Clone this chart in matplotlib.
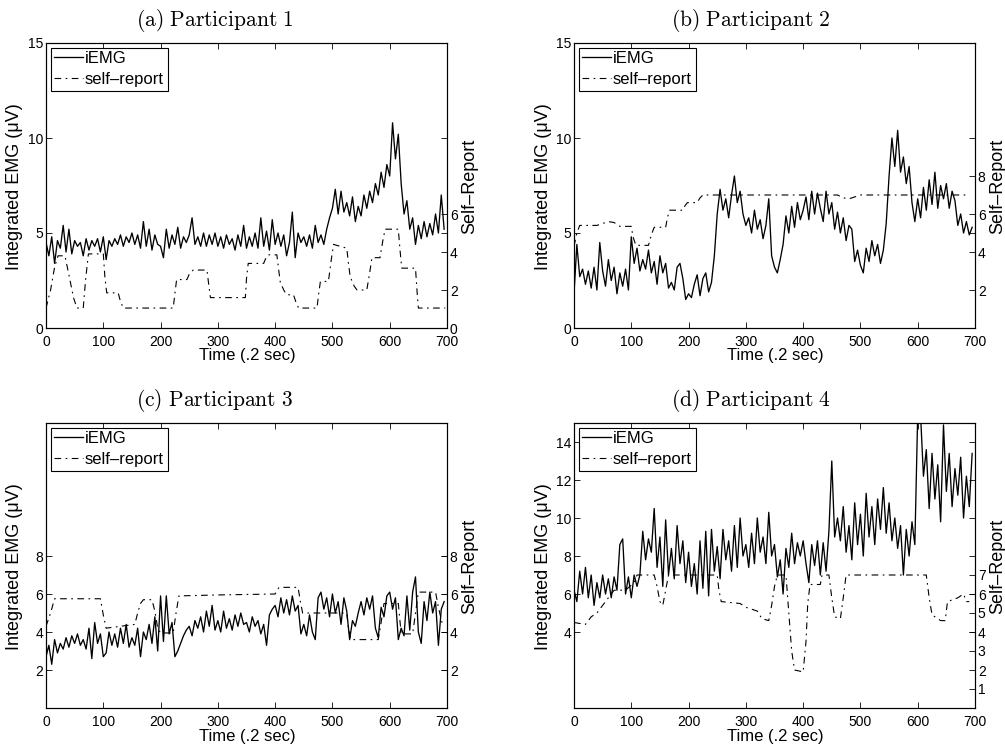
import numpy as np
import matplotlib
matplotlib.use('Agg')
from matplotlib import pyplot as plt

plt.rcParams['font.family'] = ['Liberation Sans', 'DejaVu Sans']
plt.rcParams['mathtext.fontset'] = 'cm'

# iEMG sampled every 5 time steps (0 .. 695)
t = np.arange(0, 700, 5)

emg_a = [4.5, 3.8, 4.8, 3.4, 4.6, 4.2, 5.4, 4.0, 5.2, 3.9,
         4.6, 4.3, 4.5, 3.8, 4.7, 4.1, 4.6, 4.3, 4.7, 4.0,
         4.8, 3.6, 4.6, 4.3, 4.7, 4.4, 4.9, 4.3, 4.8, 4.5,
         5.0, 4.4, 4.9, 4.2, 5.6, 4.3, 5.2, 4.1, 4.9, 4.4,
         4.3, 3.7, 5.2, 4.2, 4.9, 4.4, 5.3, 4.2, 4.8, 4.5,
         4.9, 5.8, 4.4, 4.8, 4.3, 5.0, 4.3, 4.9, 4.4, 5.0,
         4.3, 4.8, 4.2, 4.9, 4.4, 4.7, 4.1, 4.9, 4.3, 5.4,
         4.2, 4.8, 4.3, 5.0, 4.2, 5.8, 4.3, 5.1, 4.1, 5.7,
         4.4, 5.0, 4.3, 4.9, 3.8, 4.5, 6.1, 3.7, 5.0, 4.5,
         4.8, 4.3, 4.9, 4.2, 5.4, 4.5, 4.9, 4.4, 5.2, 5.8,
         6.3, 7.3, 6.0, 7.2, 6.1, 6.6, 5.9, 6.9, 5.6, 6.4,
         5.9, 7.0, 6.3, 7.2, 6.6, 7.6, 7.0, 8.2, 7.4, 8.6,
         8.0, 10.8, 8.9, 10.2, 7.6, 6.0, 6.7, 5.2, 5.8, 4.4,
         5.4, 4.7, 5.6, 4.8, 5.5, 4.9, 6.0, 5.0, 7.0, 5.2]

emg_b = [1.8, 4.4, 2.7, 3.1, 2.3, 3.0, 2.1, 3.2, 2.0, 4.5,
         3.0, 2.2, 3.6, 2.5, 3.2, 1.8, 2.9, 2.2, 3.1, 2.0,
         4.8, 3.4, 4.2, 3.0, 3.6, 3.1, 4.1, 2.9, 3.5, 2.3,
         3.8, 2.9, 3.4, 2.1, 2.4, 2.0, 3.2, 3.4, 2.6, 1.5,
         1.8, 1.6, 2.3, 2.8, 1.7, 2.6, 2.9, 1.9, 2.4, 3.8,
         6.0, 7.3, 6.2, 6.8, 5.8, 7.0, 8.0, 6.6, 7.2, 6.0,
         5.4, 5.8, 5.0, 6.2, 5.2, 5.7, 4.7, 5.4, 6.8, 3.8,
         3.2, 2.9, 3.6, 4.4, 5.9, 5.0, 6.4, 5.3, 6.6, 5.7,
         6.2, 6.9, 5.7, 7.2, 6.0, 7.1, 6.3, 5.6, 7.2, 6.0,
         6.6, 5.2, 6.1, 5.0, 5.8, 4.6, 5.4, 5.2, 3.5, 4.1,
         3.3, 2.9, 4.2, 3.5, 4.6, 3.8, 4.4, 3.4, 4.1, 5.5,
         8.0, 10.0, 8.5, 10.4, 8.2, 9.0, 7.6, 8.5, 6.6, 5.6,
         6.8, 5.8, 7.4, 6.2, 7.8, 6.5, 8.2, 6.3, 7.5, 6.8,
         7.6, 6.3, 7.2, 6.7, 5.4, 6.0, 5.0, 5.6, 4.9, 5.3]

emg_c = [2.7, 3.3, 2.3, 3.6, 2.9, 3.4, 3.1, 3.7, 3.2, 3.8,
         3.4, 3.9, 3.3, 3.6, 3.1, 4.2, 2.6, 4.5, 3.4, 3.9,
         2.7, 2.9, 4.0, 3.3, 3.9, 3.2, 4.2, 3.4, 4.4, 3.2,
         3.7, 3.3, 4.2, 2.7, 4.0, 3.6, 4.4, 3.4, 4.8, 3.0,
         5.9, 3.5, 5.9, 3.9, 4.5, 2.7, 3.0, 3.4, 3.8, 4.1,
         4.3, 3.8, 4.6, 4.2, 4.8, 4.0, 5.1, 4.3, 5.4, 4.1,
         4.6, 4.0, 5.1, 4.2, 4.7, 4.1, 4.9, 4.3, 5.0, 4.4,
         4.5, 4.0, 4.8, 4.3, 4.6, 3.9, 4.4, 3.3, 4.9, 5.2,
         5.4, 4.8, 5.8, 5.0, 5.7, 4.9, 5.9, 5.1, 5.4, 3.9,
         4.4, 3.8, 4.9, 4.0, 3.6, 5.8, 6.1, 5.2, 5.8, 4.8,
         6.0, 5.0, 5.6, 4.4, 5.8, 5.1, 3.6, 4.6, 4.3, 5.0,
         5.6, 4.9, 5.8, 5.2, 5.9, 4.2, 3.7, 5.3, 4.8, 5.9,
         6.1, 5.2, 5.8, 3.6, 4.2, 3.8, 5.9, 4.1, 6.1, 6.9,
         4.0, 3.4, 5.6, 4.6, 6.1, 5.0, 5.6, 3.3, 5.2, 5.6]

emg_d = [6.2, 5.6, 7.2, 6.0, 7.4, 5.8, 7.0, 5.4, 6.6, 5.8,
         7.0, 6.0, 6.8, 5.8, 6.9, 6.2, 8.6, 8.9, 6.0, 6.9,
         5.8, 7.0, 6.4, 7.0, 9.3, 7.8, 8.9, 8.2, 10.5, 7.4,
         9.0, 6.4, 9.9, 7.0, 8.4, 6.8, 9.6, 7.6, 8.8, 6.6,
         8.2, 6.4, 7.6, 6.0, 8.8, 6.3, 9.3, 5.9, 9.4, 7.2,
         8.5, 6.8, 9.4, 7.8, 8.8, 7.2, 9.6, 7.4, 10.0, 8.0,
         8.6, 7.4, 9.2, 7.6, 10.0, 8.2, 9.0, 7.6, 10.3, 8.0,
         8.6, 6.9, 7.8, 6.0, 8.4, 7.4, 9.2, 7.6, 8.7, 8.0,
         8.8, 7.6, 6.6, 8.6, 7.5, 8.8, 7.0, 8.7, 7.2, 9.3,
         13.0, 9.0, 10.0, 8.8, 10.6, 8.2, 9.6, 7.8, 10.8, 8.6,
         10.2, 8.0, 11.3, 9.0, 10.6, 8.6, 11.0, 9.4, 11.6, 9.2,
         10.8, 8.8, 10.0, 8.4, 9.6, 7.0, 9.4, 8.0, 9.8, 8.6,
         15.5, 15.4, 12.2, 13.6, 10.5, 13.4, 11.0, 12.8, 9.8, 14.9,
         11.4, 13.4, 10.6, 12.6, 11.2, 13.2, 10.0, 12.2, 10.6, 13.4]

# self-report curves (time, value)
sr_a_t = [0, 8, 15, 21, 33, 40, 48, 54, 65, 69, 74, 100, 103, 106, 126, 130,
          135, 222, 225, 228, 246, 251, 257, 281, 284, 287, 348, 350, 353,
          380, 384, 388, 403, 406, 409, 415, 420, 432, 437, 441, 473, 476,
          479, 493, 498, 502, 525, 528, 531, 538, 543, 560, 565, 569, 583,
          588, 592, 615, 618, 621, 645, 648, 650, 697]
sr_a_v = [1.05, 2.0, 3.2, 3.8, 3.8, 2.8, 1.6, 1.05, 1.05, 2.5, 3.9, 3.9, 2.6,
          1.85, 1.85, 1.4, 1.05, 1.05, 1.8, 2.55, 2.55, 2.9, 3.05, 3.05, 2.3,
          1.6, 1.6, 2.6, 3.4, 3.4, 3.7, 3.85, 3.85, 3.1, 2.4, 2.0, 1.75, 1.75,
          1.3, 1.05, 1.05, 1.8, 2.45, 2.45, 3.6, 4.4, 4.2, 3.4, 2.7, 2.2, 2.0,
          2.0, 2.9, 3.7, 3.7, 4.6, 5.2, 5.2, 4.1, 3.15, 3.15, 1.8, 1.05, 1.05]

sr_b_t = [0, 5, 10, 40, 60, 70, 80, 100, 103, 108, 130, 135, 140, 160, 163,
          167, 190, 194, 198, 215, 220, 225, 460, 470, 480, 490, 500, 690]
sr_b_v = [4.3, 5.0, 5.4, 5.4, 5.6, 5.55, 5.35, 5.35, 4.8, 4.35, 4.35, 4.9,
          5.3, 5.3, 5.8, 6.2, 6.2, 6.45, 6.6, 6.6, 6.85, 7.0, 7.0, 6.85, 6.8,
          6.9, 7.0, 7.0]

sr_c_t = [0, 8, 15, 95, 100, 105, 155, 160, 165, 170, 185, 190, 195, 200,
          222, 227, 232, 300, 400, 403, 407, 440, 444, 448, 525, 528, 532,
          580, 585, 590, 615, 620, 640, 645, 650, 680, 685, 692]
sr_c_v = [4.3, 5.0, 5.75, 5.75, 4.9, 4.2, 4.4, 5.0, 5.5, 5.7, 5.7, 5.1, 4.2,
          3.95, 3.95, 5.0, 5.9, 5.95, 6.0, 6.2, 6.35, 6.35, 5.6, 5.0, 5.0,
          4.2, 3.6, 3.6, 4.5, 5.5, 5.5, 3.9, 3.9, 5.0, 6.1, 6.1, 5.3, 4.4]

sr_d_t = [0, 20, 30, 40, 55, 70, 90, 105, 110, 140, 145, 150, 155, 160, 165,
          250, 253, 257, 290, 300, 310, 320, 328, 340, 345, 350, 355, 370,
          375, 380, 385, 400, 405, 408, 412, 430, 433, 445, 450, 455, 465,
          470, 475, 615, 620, 625, 640, 648, 652, 670, 680, 685, 690]
sr_d_v = [4.5, 4.4, 4.8, 5.0, 5.6, 6.2, 6.2, 6.6, 7.0, 7.0, 6.4, 5.6, 5.4,
          6.2, 7.0, 7.0, 6.2, 5.6, 5.5, 5.3, 5.2, 5.1, 4.7, 4.6, 5.4, 6.4,
          7.0, 7.0, 5.0, 3.0, 2.0, 1.9, 3.5, 5.5, 6.5, 6.5, 7.0, 7.0, 5.8,
          4.8, 4.7, 5.8, 7.0, 7.0, 5.8, 4.9, 4.6, 4.6, 5.6, 5.8, 6.0, 5.6, 5.6]

titles = ['(a) Participant 1', '(b) Participant 2',
          '(c) Participant 3', '(d) Participant 4']
left_ticks = [[0, 5, 10, 15], [0, 5, 10, 15], [2, 4, 6, 8],
              [4, 6, 8, 10, 12, 14]]
right_ticks = [[0, 2, 4, 6], [2, 4, 6, 8], [2, 4, 6, 8],
               [1, 2, 3, 4, 5, 6, 7]]

emgs = [emg_a, emg_b, emg_c, emg_d]
srs = [(sr_a_t, sr_a_v), (sr_b_t, sr_b_v), (sr_c_t, sr_c_v), (sr_d_t, sr_d_v)]

W, H = 1005, 752
fig = plt.figure(figsize=(W / 100, H / 100), dpi=100)

# pixel corners of each plot box (left, top), size 401 x 285
corners = [(46, 43), (574, 43), (46, 423), (574, 423)]
dashdot = (0, (6, 4, 1.5, 4))

for i in range(4):
    x0, y0 = corners[i]
    ax = fig.add_axes([x0 / W, 1 - (y0 + 285) / H, 401 / W, 285 / H])
    l1, = ax.plot(t, emgs[i], color='k', lw=0.95)
    ax.set_xlim(0, 700)
    ax.set_ylim(0, 15)
    ax.set_xticks(range(0, 701, 100))
    ax.set_yticks(left_ticks[i])

    ax2 = ax.twinx()
    l2, = ax2.plot(srs[i][0], srs[i][1], color='k', lw=0.8, ls=dashdot)
    ax2.set_ylim(0, 15)
    ax2.set_yticks(right_ticks[i])

    ax.tick_params(direction='in', length=4, width=0.6, labelsize=10,
                   top=True, right=True, labelright=False)
    ax.tick_params(axis='x', pad=5)
    ax.tick_params(axis='y', pad=2)
    ax2.tick_params(direction='in', length=4, width=0.6, labelsize=10, pad=2)

    leg = ax2.legend([l1, l2], ['iEMG', 'self\u2013report'], loc='upper left',
                     fancybox=False, framealpha=1, edgecolor='k', fontsize=12,
                     handlelength=1.7, handletextpad=0.15, borderpad=0.22,
                     labelspacing=0.35, borderaxespad=0.27)
    leg.get_frame().set_linewidth(0.8)

    # titles and axis labels placed by pixel
    yoff = 0 if i < 2 else 380
    xoff = 0 if i % 2 == 0 else 528
    name = titles[i].replace(' ', r'\ ')
    fig.text((215 + xoff + (8 if i % 2 else 0)) / W, 1 - (21 + yoff) / H,
             r'$\mathrm{' + name + '}$', ha='center', va='center', fontsize=15.5)
    fig.text((15 + xoff) / W, 1 - (187 + yoff) / H,
             'Integrated EMG (\u03bcV)', rotation=90, ha='center',
             va='center', fontsize=13)
    fig.text((470 + xoff) / W, 1 - (186 + yoff) / H, 'Self\u2013Report',
             rotation=90, ha='center', va='center', fontsize=13)
    fig.text((247 + xoff) / W, 1 - (356 + yoff) / H, 'Time (.2 sec)',
             ha='center', va='center', fontsize=12)

plt.savefig('out.png', dpi=100)
